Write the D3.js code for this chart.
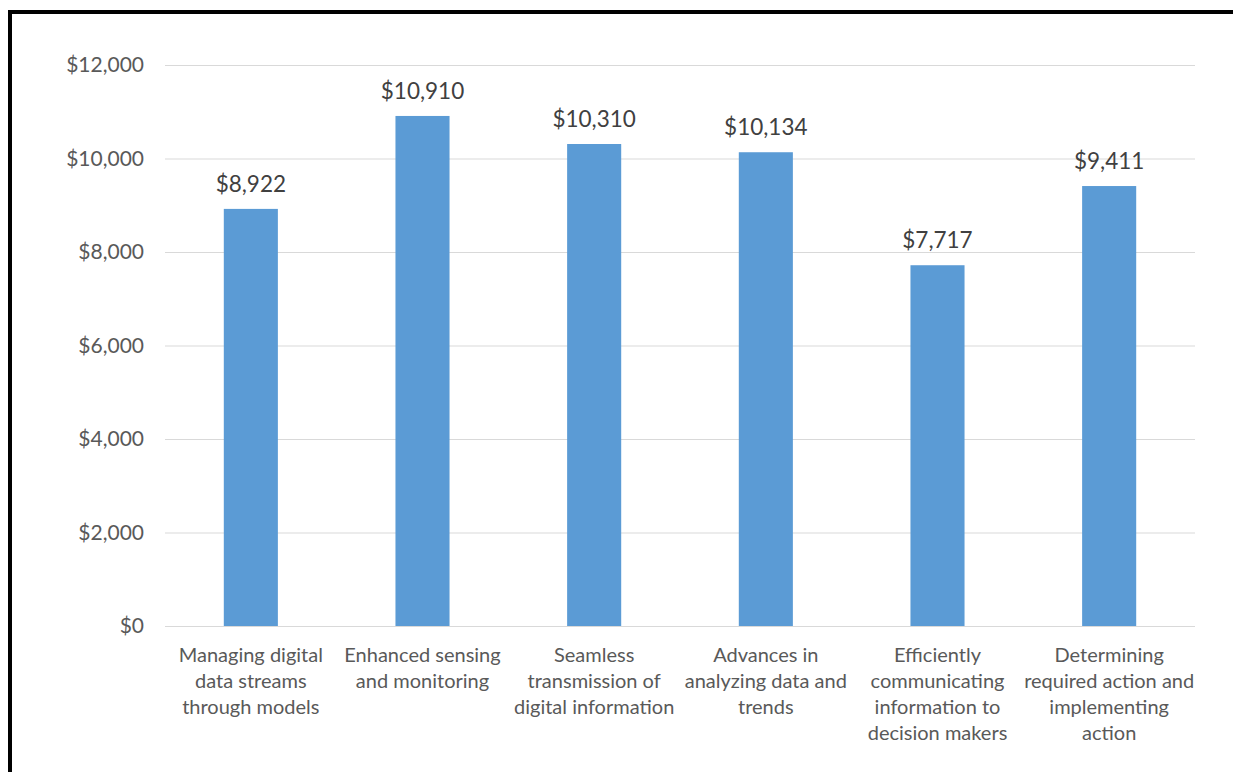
<!DOCTYPE html>
<html><head><meta charset="utf-8">
<script src="https://cdn.jsdelivr.net/npm/d3@7"></script>
<style>body{margin:0;background:#fff;}svg{display:block;}</style>
</head><body>
<svg id="c" width="1233" height="772"></svg>
<script>
const categories = [
  ["Managing digital","data streams","through models"],
  ["Enhanced sensing","and monitoring"],
  ["Seamless","transmission of","digital information"],
  ["Advances in","analyzing data and","trends"],
  ["Efficiently","communicating","information to","decision makers"],
  ["Determining","required action and","implementing","action"]
];
const values = [8922, 10910, 10310, 10134, 7717, 9411];
const yTicks = [0, 2000, 4000, 6000, 8000, 10000, 12000];

(function(){
const svg = d3.select("#c");
const font = "Lato, 'Open Sans', sans-serif";
const pLeft = 165, pRight = 1195, pTop = 65, pBottom = 626;

svg.append("rect").attr("x",0).attr("y",0).attr("width",1233).attr("height",772).attr("fill","#fff");
// border
svg.append("line").attr("x1",8).attr("x2",1233).attr("y1",12).attr("y2",12).attr("stroke","#000").attr("stroke-width",4);
svg.append("line").attr("x1",10).attr("x2",10).attr("y1",10).attr("y2",772).attr("stroke","#000").attr("stroke-width",4);

const x = d3.scaleBand().domain(d3.range(values.length)).range([pLeft,pRight]).paddingInner(0.685).paddingOuter(0.3425);
const y = d3.scaleLinear().domain([0,12000]).range([pBottom,pTop]);

const fmt = v => "$" + d3.format(",")(v);

const g = svg.append("g");
g.selectAll(".grid").data(yTicks).join("line")
  .attr("x1",pLeft).attr("x2",pRight)
  .attr("y1",d=>y(d)+0.5).attr("y2",d=>y(d)+0.5)
  .attr("stroke","#d9d9d9").attr("stroke-width",1);

g.selectAll(".yl").data(yTicks).join("text")
  .attr("x",144).attr("y",d=>y(d)).attr("dy","0.35em")
  .attr("text-anchor","end").attr("font-family",font).attr("font-size",21).attr("fill","#595959")
  .text(fmt);

g.selectAll(".bar").data(values).join("rect")
  .attr("x",(d,i)=>x(i)).attr("width",x.bandwidth())
  .attr("y",d=>y(d)).attr("height",d=>y(0)-y(d))
  .attr("fill","#5B9BD5");

g.selectAll(".dl").data(values).join("text")
  .attr("x",(d,i)=>x(i)+x.bandwidth()/2).attr("y",d=>y(d)-17)
  .attr("text-anchor","middle").attr("font-family",font).attr("font-size",22.5).attr("fill","#404040")
  .text(fmt);

const cl = g.selectAll(".cl").data(categories).join("text")
  .attr("text-anchor","middle").attr("font-family",font).attr("font-size",20).attr("fill","#595959");
cl.each(function(lines,i){
  d3.select(this).selectAll("tspan").data(lines).join("tspan")
    .attr("x",x(i)+x.bandwidth()/2).attr("y",(d,j)=>662+j*26).text(d=>d);
});
})();
</script>
</body></html>
